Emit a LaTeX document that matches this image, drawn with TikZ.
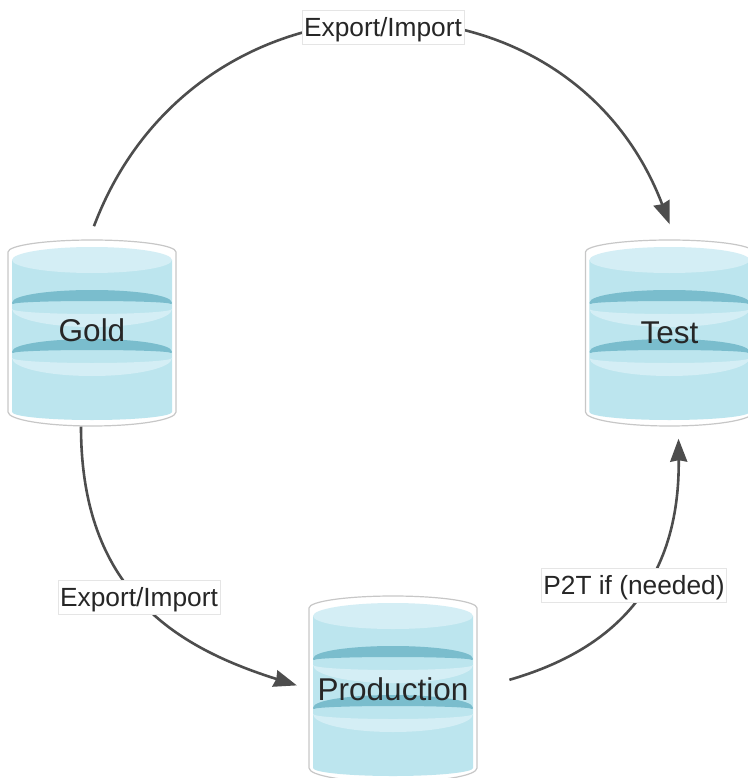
\documentclass[tikz,border=0pt]{standalone}
\usepackage{fontspec}
\setmainfont{Liberation Sans}
\usetikzlibrary{arrows.meta,positioning,backgrounds}
\definecolor{dbbody}{HTML}{BCE5EE}
\definecolor{dblight}{HTML}{D4EEF5}
\definecolor{dbdark}{HTML}{7ABDCD}
\definecolor{flowgray}{HTML}{4D4D4D}
% One ring of the drum, #1 is the height of its ends
\newcommand{\dbring}[1]{%
\fill[dblight] (-80,#1+6) arc [start angle=180, end angle=0, x radius=80, y radius=18]
  arc [start angle=0, end angle=180, x radius=80, y radius=5] -- cycle;
\filldraw[dbdark, line width=2pt, line join=round] (-79,#1) arc [start angle=180, end angle=360, x radius=79, y radius=12]
  arc [start angle=360, end angle=180, x radius=79, y radius=3] -- cycle;
}
\begin{document}
\begin{tikzpicture}[
x=1pt, y=-1pt,
dbnode/.style={rectangle, minimum width=169pt, minimum height=187pt, inner sep=0pt,
  font=\fontsize{31.5}{36}\selectfont, text=black!85},
tag/.style={fill=white, draw=black!10, line width=0.6pt, inner sep=2pt, minimum height=34pt,
  text height=19pt, text depth=0pt, font=\fontsize{26.3}{30}\selectfont, text=black!85},
flow/.style={draw=flowgray, line width=2.6pt, -{Stealth[length=23pt, width=17pt, inset=1.5pt]}}]
\useasboundingbox (0,0) rectangle (747,778);
% Nodes
\node[dbnode, text depth=5pt] (gold) at (92,333) {Gold};
\node[dbnode] (test) [right=408pt of gold] {Test};
\node[dbnode] (production) at (393,689) {Production};
% Drums
\begin{scope}[on background layer]
\foreach \n in {gold,test,production} {
\begin{scope}[shift={(\n.center)}]
\draw[draw=black!22, fill=white, line width=1.2pt] (-84,-81)
  arc [start angle=180, end angle=360, x radius=84, y radius=12] -- (84,79)
  arc [start angle=0, end angle=180, x radius=84, y radius=14] -- cycle;
\fill[dbbody] (-80,-73) -- (80,-73) -- (80,79)
  arc [start angle=0, end angle=180, x radius=80, y radius=8] -- cycle;
\fill[dblight] (0,-73) ellipse [x radius=80, y radius=13];
\dbring{-30}
\dbring{19}
\end{scope}
}
\end{scope}
% Lines
\draw[flow, shorten <=14pt, shorten >=16pt] ([xshift=-3pt]gold.north) .. controls (196,-44) and (568,-44) .. ([xshift=6pt]test.north);
\draw[flow, shorten >=12pt] ([xshift=-11pt]gold.south) .. controls (81,590) and (175,647) .. (production.west);
\draw[flow, shorten <=33pt, shorten >=12pt] (production.east) .. controls (595,655) and (680,600) .. ([xshift=9pt]test.south);
% Labels
\node[tag] (top) at (383,27) {Export/Import};
\node[tag] (left) at (139,597) {Export/Import};
\node[tag] (right) at (634,585) {P2T if (needed)};
\end{tikzpicture}
\end{document}
